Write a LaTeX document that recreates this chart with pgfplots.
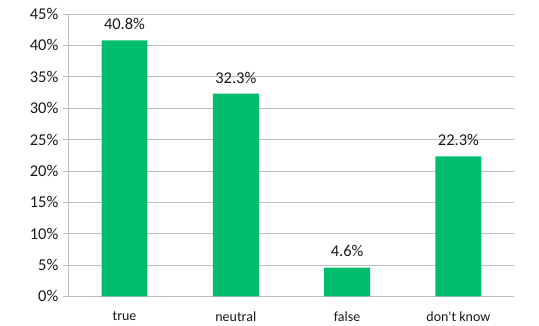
\documentclass[border=0pt]{standalone}
\usepackage{pgfplots}
\pgfplotsset{compat=1.18}
\usepackage{fontspec}
\setmainfont{Carlito}
\definecolor{bargreen}{RGB}{0,190,110}
\definecolor{gridgray}{RGB}{190,190,190}
\begin{document}
\begin{tikzpicture}
\begin{axis}[
  scale only axis,
  width=446pt, height=283pt,
  ymin=0, ymax=45,
  xmin=-0.5, xmax=3.5,
  ytick={0,5,...,45},
  yticklabel={\pgfmathprintnumber{\tick}\%},
  xtick={0,1,2,3},
  xticklabels={true,neutral,false,{don\textquotesingle t know}},
  major x tick style={draw=none},
  extra x ticks={-0.5,0.5,1.5,2.5,3.5},
  extra x tick labels={},
  extra x tick style={grid=none, tick align=outside, major tick length=6pt, tick style={draw=gridgray, line width=0.8pt}},
  ymajorgrids,
  grid style={gridgray, line width=0.8pt},
  axis x line*=bottom,
  axis y line*=left,
  axis line style={gridgray, line width=0.8pt},
  y axis line style={-},
  x axis line style={-},
  tick align=outside,
  major tick length=6pt,
  major y tick style={gridgray, line width=0.8pt},
  xticklabel style={font=\fontsize{14}{16}\selectfont, text=black!90, yshift=-6pt},
  yticklabel style={font=\fontsize{16.5}{18}\selectfont, text=black!90, xshift=-1pt},
  /pgf/number format/assume math mode=true,
  ybar, bar width=46pt,
  nodes near coords={\pgfmathprintnumber[fixed,precision=1,fixed zerofill]{\pgfplotspointmeta}\%},
  nodes near coords style={font=\fontsize{16.5}{18}\selectfont, text=black!90, yshift=7pt},
  every node near coord/.append style={/pgf/number format/assume math mode=true},
]
\addplot[fill=bargreen, draw=none] coordinates {(0,40.8) (1,32.3) (2,4.6) (3,22.3)};
\end{axis}
\path ([xshift=-69pt,yshift=-29pt]current axis.south west) rectangle ([xshift=25pt,yshift=14pt]current axis.north east);
\end{tikzpicture}
\end{document}
